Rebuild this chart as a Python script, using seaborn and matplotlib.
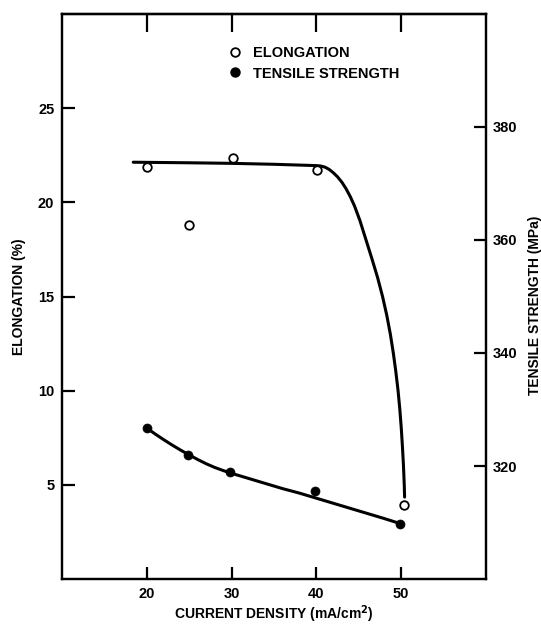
import matplotlib
matplotlib.use("Agg")
import matplotlib.pyplot as plt
from matplotlib.lines import Line2D
import seaborn as sns
import pandas as pd

# ---- data ----
elong_x = [20.0, 25.0, 30.2, 40.1, 50.3]
elong_y = [21.9, 18.8, 22.35, 21.7, 3.95]

tensile_x = [20.0, 24.9, 29.85, 39.8, 49.9]
tensile_y = [326.7, 321.9, 318.9, 315.6, 309.8]

# hand-drawn fitted curves
elong_curve_x = [18.4, 25.0, 30.0, 35.0, 40.0, 40.5, 41.0, 41.5, 42.0, 42.5, 43.0,
                 43.5, 44.0, 44.5, 45.12, 45.84, 46.55, 47.22, 47.8, 48.3, 48.72,
                 49.07, 49.37, 49.63, 49.84, 50.01, 50.15, 50.27, 50.36, 50.4]
elong_curve_y = [22.13, 22.1, 22.07, 22.02, 21.95, 21.93, 21.87, 21.75, 21.57, 21.35,
                 21.07, 20.72, 20.3, 19.8, 19.05, 18.02, 17.0, 16.0, 15.0, 14.0, 13.0,
                 12.0, 11.0, 10.0, 9.0, 8.0, 7.0, 6.0, 5.0, 4.35]

tensile_curve_x = [20.0, 21.0, 22.0, 23.0, 24.0, 25.0, 26.0, 27.0, 28.0, 29.0, 30.0,
                   32.0, 34.0, 36.0, 38.0, 40.0, 42.0, 44.0, 46.0, 48.0, 49.9]
tensile_curve_y = [326.7, 325.65, 324.65, 323.7, 322.8, 321.95, 321.15, 320.4, 319.75,
                   319.2, 318.7, 317.8, 316.9, 316.0, 315.2, 314.3, 313.4, 312.5,
                   311.6, 310.7, 309.8]

x_ticks = [20, 30, 40, 50]
left_ticks = [5, 10, 15, 20, 25]
right_ticks = [320, 340, 360, 380]

# ---- style ----
sns.set_style("ticks")
plt.rcParams["font.family"] = ["Liberation Sans", "DejaVu Sans"]
plt.rcParams["font.weight"] = "bold"
for k in ["text.color", "axes.labelcolor", "xtick.color", "ytick.color", "axes.edgecolor"]:
    plt.rcParams[k] = "black"

fig = plt.figure(figsize=(5.41, 6.31), dpi=100)
ax = fig.add_axes([62 / 541, 1 - 579 / 631, (486 - 62) / 541, (579 - 14) / 631])
ax2 = ax.twinx()

df_e = pd.DataFrame({"x": elong_x, "y": elong_y})
df_t = pd.DataFrame({"x": tensile_x, "y": tensile_y})
df_ec = pd.DataFrame({"x": elong_curve_x, "y": elong_curve_y})
df_tc = pd.DataFrame({"x": tensile_curve_x, "y": tensile_curve_y})

sns.lineplot(data=df_ec, x="x", y="y", ax=ax, color="black", linewidth=2.2, sort=False)
sns.scatterplot(data=df_e, x="x", y="y", ax=ax, s=38, facecolor="white",
                edgecolor="black", linewidth=1.3, zorder=5)

sns.lineplot(data=df_tc, x="x", y="y", ax=ax2, color="black", linewidth=2.2, sort=False)
sns.scatterplot(data=df_t, x="x", y="y", ax=ax2, s=42, color="black",
                edgecolor="black", linewidth=0.5, zorder=5)

ax.set_xlim(10, 60)
ax.set_ylim(0, 30)
ax2.set_ylim(300, 400)

ax.set_xticks(x_ticks)
ax.set_yticks(left_ticks)
ax2.set_yticks(right_ticks)

ax.tick_params(axis="x", direction="in", length=9, width=1.6, labelsize=10.5, pad=5.5,
               top=False)
ax.tick_params(axis="y", direction="in", length=9, width=1.6, labelsize=10.5, pad=5.5,
               right=False)
ax2.tick_params(axis="y", direction="in", length=9, width=1.6, labelsize=10.5, pad=4.5)

top = ax.secondary_xaxis("top")
top.set_xticks(x_ticks)
top.tick_params(direction="in", length=13, width=1.6, labeltop=False)
top.spines["top"].set_linewidth(1.6)

for a in (ax, ax2):
    for s in a.spines.values():
        s.set_linewidth(1.6)
        s.set_visible(True)

ax.set_xlabel("CURRENT DENSITY (mA/cm$^\\mathbf{2}$)", fontsize=10, fontweight="bold")
ax.set_ylabel("ELONGATION (%)", fontsize=10, fontweight="bold")
ax2.set_ylabel("TENSILE STRENGTH (MPa)", fontsize=10, fontweight="bold")
ax.xaxis.set_label_coords(0.5, -0.043)
ax.yaxis.set_label_coords(-0.086, 0.5)
ax2.yaxis.set_label_coords(1.1, 0.485)

handles = [
    Line2D([], [], linestyle="none", marker="o", markersize=6.2, markerfacecolor="white",
           markeredgecolor="black", markeredgewidth=1.3),
    Line2D([], [], linestyle="none", marker="o", markersize=6.5, markerfacecolor="black",
           markeredgecolor="black"),
]
ax2.legend(handles, ["ELONGATION", "TENSILE STRENGTH"], loc="upper left",
           bbox_to_anchor=(229 / 541, 1 - 46 / 631), bbox_transform=fig.transFigure,
           frameon=False, fontsize=10.5, handlelength=0.8, handletextpad=0.85,
           labelspacing=0.45, borderpad=0, borderaxespad=0)

fig.savefig("out.png", dpi=100)
